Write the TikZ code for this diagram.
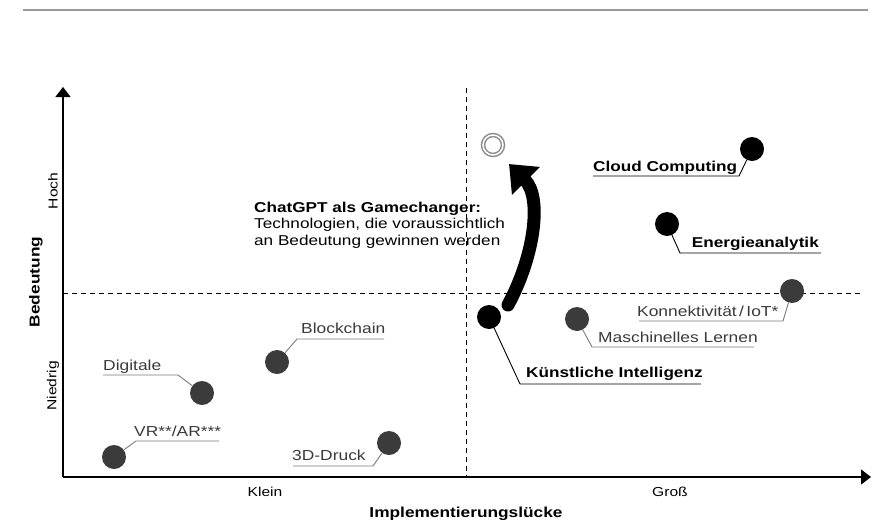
\documentclass[tikz,border=0pt]{standalone}
\usepackage{fontspec}
\setmainfont{Liberation Sans}[FakeStretch=1.2]
\usetikzlibrary{arrows.meta}
\definecolor{dotgray}{HTML}{3B3B3B}
\definecolor{txtgray}{HTML}{3A3A3A}
\definecolor{linegray}{HTML}{7A7A7A}
\definecolor{rulegray}{HTML}{999999}
\definecolor{ringgray}{HTML}{8A8A8A}
\tikzset{
  dot/.style={circle,fill=dotgray,inner sep=0pt,minimum size=24pt},
  keydot/.style={dot,fill=black},
  lbl/.style={inner sep=0pt,text=txtgray,font=\fontsize{14.5}{16.5}\selectfont},
  keylbl/.style={inner sep=0pt,text=black,font=\fontsize{14.3}{16.5}\selectfont\bfseries},
  leader/.style={draw=linegray,line width=0.9pt},
  keyleader/.style={draw=black,line width=0.9pt},
  axis/.style={line width=1.4pt,-{Triangle[width=15pt,length=10pt]}},
  split/.style={dash pattern=on 5pt off 4pt,line width=0.8pt},
  ticklbl/.style={inner sep=0pt,font=\fontsize{13}{15}\selectfont},
  axislbl/.style={inner sep=0pt,font=\fontsize{14.4}{16}\selectfont\bfseries}
}
\begin{document}
\begin{tikzpicture}[x=1pt,y=-1pt]
\useasboundingbox (0,0) rectangle (880,522);
\draw[rulegray,line width=2pt] (23,10) -- (868,10);

\coordinate (o) at (63,477);
\coordinate (ytop) at (63,87);
\coordinate (xend) at (871,477);
\coordinate (vtop) at (466,88);
\coordinate (vbot) at (466,477);
\coordinate (hl) at (63,293);
\coordinate (hr) at (862,293);
\draw[split] (vtop) -- (vbot);
\draw[split] (hl) -- (hr);
\draw[axis] (o) -- (ytop);
\draw[axis] (o) -- (xend);

\node[ticklbl,rotate=90] (hoch) at (53,191) {Hoch};
\node[ticklbl,rotate=90] (niedrig) at (53,386) {Niedrig};
\node[axislbl,rotate=90] (bed) at (36,282) {Bedeutung};
\node[ticklbl] (klein) at (265,492) {Klein};
\node[ticklbl] (gross) at (670,492) {Groß};
\node[axislbl] (impl) at (466,514) {Implementierungslücke};

\node[keylbl,align=left,anchor=base west] (gc) at (254,245)
  {ChatGPT als Gamechanger:\\\mdseries Technologien, die voraussichtlich\\\mdseries an Bedeutung gewinnen werden};

% Punkte
\node[keydot] (cc) at (752,149) {};
\node[keydot] (ea) at (667,224) {};
\node[keydot] (ki) at (489,317) {};
\node[dot] (iot) at (792,291) {};
\node[dot] (ml) at (577,319) {};
\node[dot] (bc) at (277,362) {};
\node[dot] (dig) at (202,393) {};
\node[dot] (vr) at (114,457) {};
\node[dot] (druck) at (389,443) {};
\node[circle,draw=ringgray,line width=1.5pt,inner sep=0pt,minimum size=20pt,
  double=white,double distance=1.5pt] (ziel) at (493,145) {};

\node[keylbl,anchor=base west] (cc-l) at (593,171) {Cloud Computing};
\node[keylbl,anchor=base east] (ea-l) at (819,247) {Energieanalytik};
\node[keylbl,anchor=base west] (ki-l) at (526,377) {Künstliche Intelligenz};
\node[lbl,anchor=base west] (iot-l) at (637,316) {Konnektivität\,/\,IoT*};
\node[lbl,anchor=base west] (ml-l) at (598,342) {Maschinelles Lernen};
\node[lbl,anchor=base west] (bc-l) at (301,333) {Blockchain};
\node[lbl,anchor=base west] (dig-l) at (103,370) {Digitale};
\node[lbl,anchor=base west] (vr-l) at (134,436) {VR**/AR***};
\node[lbl,anchor=base west] (druck-l) at (292,460) {3D-Druck};

\coordinate (cc-k) at (739,176);   \coordinate (cc-e) at (593,176);
\coordinate (ea-k) at (680,253);   \coordinate (ea-e) at (821,253);
\coordinate (ki-k) at (520,384);   \coordinate (ki-e) at (701,384);
\coordinate (iot-k) at (783,321);  \coordinate (iot-e) at (639,321);
\coordinate (ml-k) at (592,347);   \coordinate (ml-e) at (754,347);
\coordinate (bc-k) at (297,339);   \coordinate (bc-e) at (384,339);
\coordinate (dig-k) at (178,375);  \coordinate (dig-e) at (103,375);
\coordinate (vr-k) at (136,441);   \coordinate (vr-e) at (219,441);
\coordinate (druck-k) at (373,466); \coordinate (druck-e) at (293,466);

\draw[keyleader] (cc) -- (cc-k) -- (cc-e);
\draw[keyleader] (ea) -- (ea-k) -- (ea-e);
\draw[keyleader] (ki) -- (ki-k) -- (ki-e);
\draw[leader] (iot) -- (iot-k) -- (iot-e);
\draw[leader] (ml) -- (ml-k) -- (ml-e);
\draw[leader] (bc) -- (bc-k) -- (bc-e);
\draw[leader] (dig) -- (dig-k) -- (dig-e);
\draw[leader] (vr) -- (vr-k) -- (vr-e);
\draw[leader] (druck) -- (druck-k) -- (druck-e);

\coordinate (gc-s) at (508,305);
\coordinate (gc-e) at (509,164);
\draw[line width=13pt,line cap=round,-{Triangle[width=38pt,length=24pt]}]
  (gc-s) .. controls (535,255) and (542,197) .. (gc-e);
\end{tikzpicture}
\end{document}
